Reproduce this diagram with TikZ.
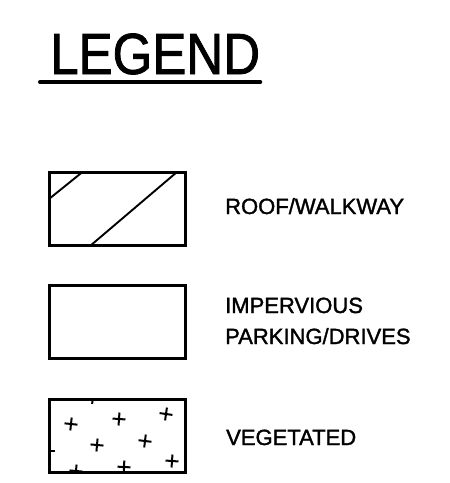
\documentclass[tikz,border=0pt]{standalone}
\usepackage{fontspec}
\setmainfont{Liberation Sans}
\newfontfamily\cadfont{Liberation Sans}[FakeBold=1.5]
\usetikzlibrary{positioning}

\begin{document}
\begin{tikzpicture}[x=1pt,y=-1pt,
  swatch/.style={draw,line width=2.2pt,minimum width=136pt,minimum height=73pt,inner sep=0pt,outer sep=0pt},
  caption/.style={anchor=base west,inner sep=0pt,font=\cadfont\fontsize{22}{31}\selectfont},
  plant/.style={line width=2pt}]
  \useasboundingbox (0,0) rectangle (450,483);

  % title
  \node[anchor=base west,inner sep=0pt,font=\cadfont\fontsize{58}{58}\selectfont] (title) at (50,74) {\scalebox{0.88}[1]{LEGEND}};
  \draw[line width=4pt,line cap=round] ([xshift=-10pt,yshift=-8pt]title.base west) -- ([yshift=-8pt]title.base east);

  % swatches
  \node[swatch] (roof) at (117.5,209) {};
  \node[swatch,below=40pt of roof] (imperv) {};
  \node[swatch,below=41pt of imperv] (veg) {};

  % roof hatch
  \begin{scope}
    \clip (roof.south west) rectangle (roof.north east);
    \draw[line width=1.9pt] (49,199) -- (82.5,172);
    \draw[line width=1.9pt] (90,246) -- (177,172);
  \end{scope}

  % vegetation marks
  \begin{scope}
    \clip (veg.south west) rectangle (veg.north east);
    \foreach \px/\py/\tilt in {71/424/-6,119/419/-4,166/414/-8,97/445/-5,145/441/-7,
                               172/461/-4,124/467/-3,76/471/-5,93/397.5/-8,48.5/451/0}
      \draw[plant,rotate around={\tilt:(\px,\py)}] (\px-6.5,\py) -- (\px+6.5,\py) (\px,\py-6.5) -- (\px,\py+6.5);
  \end{scope}

  % captions
  \node[caption] (roofText) at (225,214) {ROOF/WALKWAY};
  \node[caption] (impervText) at (225,313) {IMPERVIOUS};
  \node[caption] (parkText) at (225,344) {PARKING/DRIVES};
  \node[caption] (vegText) at (226,445) {VEGETATED};
\end{tikzpicture}
\end{document}
